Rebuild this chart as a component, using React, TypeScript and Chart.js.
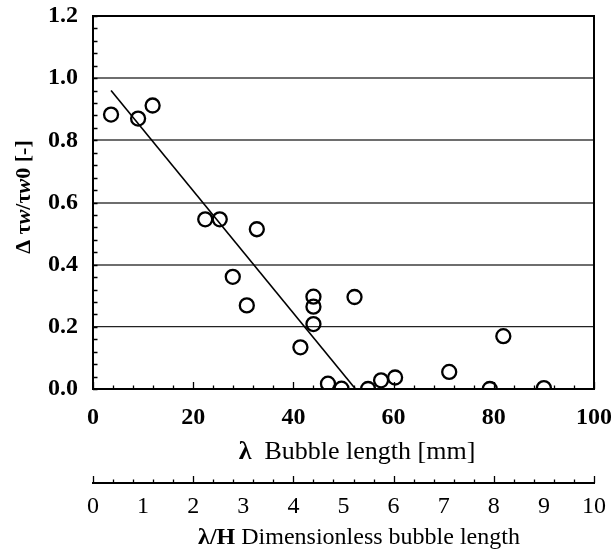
import React, { useEffect, useRef } from 'react';
import { Chart, registerables } from 'chart.js';

Chart.register(...registerables);

// ---- data ----
const bubbleLength = [3.6, 9.0, 11.9, 22.4, 25.3, 32.7, 27.9, 30.7, 44.0, 44.0, 44.0, 52.2, 41.4, 46.9, 49.6, 54.9, 57.5, 60.3, 71.1, 81.9, 79.2, 90.0];
const shearReduction = [0.883, 0.87, 0.912, 0.546, 0.546, 0.514, 0.361, 0.269, 0.297, 0.265, 0.209, 0.296, 0.134, 0.017, 0.001, 0.0, 0.028, 0.037, 0.055, 0.17, 0.0, 0.003];
const fitLineX = [3.6, 52.4];
const fitLineY = [0.96, 0.0];

const xTickValues = [0, 20, 40, 60, 80, 100];
const yTickValues = [0, 0.2, 0.4, 0.6, 0.8, 1.0, 1.2];
const hTickValues = [0, 1, 2, 3, 4, 5, 6, 7, 8, 9, 10];

const yTitleParts = [
  { text: 'Δ τ', style: 'bold' },
  { text: 'w', style: 'italic bold' },
  { text: '/τ', style: 'bold' },
  { text: 'w', style: 'italic bold' },
  { text: '0 [-]', style: 'bold' },
];
const xTitleParts = [
  { text: 'λ', style: 'bold' },
  { text: '  Bubble length [mm]', style: 'normal' },
];
const hTitleParts = [
  { text: 'λ/H', style: 'bold' },
  { text: ' Dimensionless bubble length', style: 'normal' },
];

const FAMILY = '"Liberation Serif", "Times New Roman", serif';

function drawRich(ctx: CanvasRenderingContext2D, parts: { text: string; style: string }[], size: number, cx: number, cy: number) {
  let total = 0;
  const widths: number[] = [];
  for (const p of parts) {
    ctx.font = `${p.style} ${size}px ${FAMILY}`;
    const w = ctx.measureText(p.text).width;
    widths.push(w);
    total += w;
  }
  let x = cx - total / 2;
  ctx.textBaseline = 'middle';
  ctx.textAlign = 'left';
  ctx.fillStyle = '#000';
  parts.forEach((p, i) => {
    ctx.font = `${p.style} ${size}px ${FAMILY}`;
    ctx.fillText(p.text, x, cy);
    x += widths[i];
  });
}

const decorPlugin = {
  id: 'decor',
  afterDraw(chart: any) {
    const ctx: CanvasRenderingContext2D = chart.ctx;
    const { left, right, top, bottom } = chart.chartArea;
    const xs = chart.scales.x;
    const ys = chart.scales.y;
    const hs = chart.scales.x2;
    ctx.save();
    ctx.strokeStyle = '#000';
    ctx.lineWidth = 2;
    ctx.beginPath();
    ctx.moveTo(left - 1, top);
    ctx.lineTo(right, top);
    ctx.lineTo(right, bottom + 1);
    ctx.stroke();

    ctx.lineWidth = 1.3;
    ctx.beginPath();
    for (let i = 0; i <= 25; i++) {
      const v = i * 4;
      const px = Math.round(xs.getPixelForValue(v)) + 0.5;
      const len = i % 5 === 0 ? 7 : 3.5;
      ctx.moveTo(px, bottom);
      ctx.lineTo(px, bottom - len);
    }
    for (let i = 0; i <= 30; i++) {
      const v = i * 0.04;
      const py = Math.round(ys.getPixelForValue(v)) + 0.5;
      ctx.moveTo(left, py);
      ctx.lineTo(left + 4.5, py);
    }
    const hy = hs.top;
    for (let i = 0; i <= 25; i++) {
      const v = i * 0.4;
      const px = Math.round(hs.getPixelForValue(v)) + 0.5;
      const len = i % 5 === 0 ? 7 : 3.5;
      ctx.moveTo(px, hy);
      ctx.lineTo(px, hy - len);
    }
    ctx.stroke();

    drawRich(ctx, xTitleParts, 26, 357, xs.top + 63);
    drawRich(ctx, hTitleParts, 24, 359, hs.top + 55);

    ctx.save();
    ctx.translate(24, 197);
    ctx.rotate(-Math.PI / 2);
    drawRich(ctx, yTitleParts, 22, 0, 0);
    ctx.restore();

    ctx.restore();
  },
};

export default function App() {
  const ref = useRef<HTMLCanvasElement>(null);

  useEffect(() => {
    if (!ref.current) return;
    const points = bubbleLength.map((x, i) => ({ x, y: shearReduction[i] }));
    const line = fitLineX.map((x, i) => ({ x, y: fitLineY[i] }));

    const chart = new Chart(ref.current, {
      type: 'scatter',
      data: {
        datasets: [
          {
            data: line,
            showLine: true,
            borderColor: '#000',
            borderWidth: 1.6,
            pointRadius: 0,
            fill: false,
          } as any,
          {
            data: points,
            pointStyle: 'circle',
            pointRadius: 7,
            pointBorderWidth: 2.3,
            pointBorderColor: '#000',
            pointBackgroundColor: 'rgba(0,0,0,0)',
            showLine: false,
          } as any,
        ],
      },
      plugins: [decorPlugin],
      options: {
        animation: false,
        responsive: false,
        devicePixelRatio: 1,
        layout: { padding: { top: 16, right: 17, bottom: 0, left: 0 } },
        plugins: { legend: { display: false }, tooltip: { enabled: false } },
        scales: {
          x: {
            type: 'linear',
            position: 'bottom',
            min: 0,
            max: 100,
            afterBuildTicks: (s: any) => { s.ticks = xTickValues.map((v) => ({ value: v })); },
            afterFit: (s: any) => { s.height = 94; s.paddingLeft = 0; s.paddingRight = 0; },
            grid: { display: false, drawTicks: false },
            border: { display: true, color: '#000', width: 2 },
            ticks: {
              padding: 14,
              color: '#000',
              maxRotation: 0,
              font: { family: FAMILY, size: 24, weight: 'bold' },
              callback: (v: any) => String(Math.round(Number(v))),
            },
          },
          x2: {
            type: 'linear',
            axis: 'x',
            position: 'bottom',
            weight: 1,
            min: 0,
            max: 10,
            afterBuildTicks: (s: any) => { s.ticks = hTickValues.map((v) => ({ value: v })); },
            afterFit: (s: any) => { s.height = 69; s.paddingLeft = 0; s.paddingRight = 0; },
            grid: { display: false, drawTicks: false },
            border: { display: true, color: '#000', width: 2 },
            ticks: {
              padding: 9,
              color: '#000',
              maxRotation: 0,
              font: { family: FAMILY, size: 24, weight: 'normal' },
              callback: (v: any) => String(Math.round(Number(v))),
            },
          },
          y: {
            type: 'linear',
            position: 'left',
            min: 0,
            max: 1.2,
            afterBuildTicks: (s: any) => { s.ticks = yTickValues.map((v) => ({ value: v })); },
            afterFit: (s: any) => { s.width = 93; s.paddingTop = 0; s.paddingBottom = 0; },
            grid: {
              drawTicks: false,
              color: (c: any) => {
                const v = c.tick ? c.tick.value : 0;
                if (v < 0.01 || v > 1.19) return 'rgba(0,0,0,0)';
                if (Math.abs(v - 0.2) < 0.01) return '#222';
                return '#6e6e6e';
              },
              lineWidth: (c: any) => {
                const v = c.tick ? c.tick.value : 0;
                return Math.abs(v - 0.2) < 0.01 ? 1.3 : 2;
              },
            },
            border: { display: true, color: '#000', width: 2 },
            ticks: {
              padding: 15,
              color: '#000',
              font: { family: FAMILY, size: 24, weight: 'bold' },
              callback: (v: any) => Number(v).toFixed(1),
            },
          },
        },
      } as any,
    });
    return () => chart.destroy();
  }, []);

  return (
    <div style={{ position: 'absolute', left: 0, top: 0, width: 611, height: 552, background: '#fff' }}>
      <canvas ref={ref} width={611} height={552} style={{ display: 'block' }} />
    </div>
  );
}
